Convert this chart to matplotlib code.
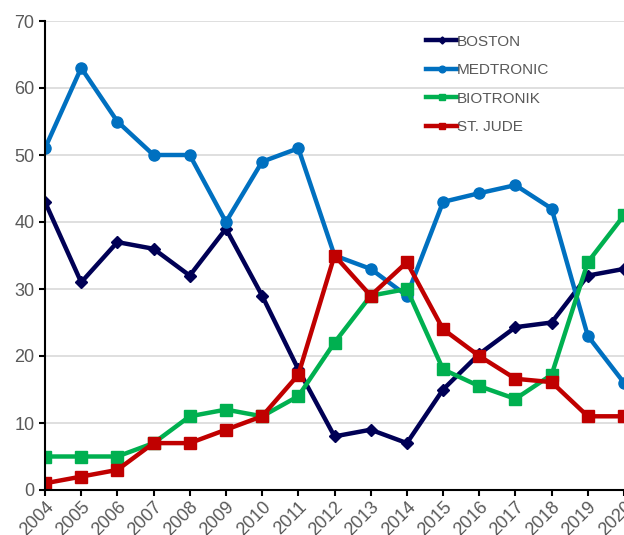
import matplotlib.pyplot as plt

years = list(range(2004, 2021))
boston = [43, 31, 37, 36, 32, 39, 29, 18, 8, 9, 7, 15, 20.3, 24.3, 25, 32, 33]
medtronic = [51, 63, 55, 50, 50, 40, 49, 51, 35, 33, 29, 43, 44.3, 45.5, 42, 23, 16]
biotronik = [5, 5, 5, 7, 11, 12, 11, 14, 22, 29, 30, 18, 15.5, 13.6, 17.2, 34, 41]
st_jude = [1, 2, 3, 7, 7, 9, 11, 17.2, 35, 29, 34, 24, 20, 16.6, 16.1, 11, 11]

plt.rcParams['font.family'] = ['Liberation Sans', 'DejaVu Sans']

fig = plt.figure(figsize=(6.24, 5.35), dpi=100)
ax = fig.add_axes([45 / 624, 45 / 535, 579 / 624, 469 / 535])

ax.plot(years, boston, color='#000055', lw=3.2, marker='D', ms=6, label='BOSTON')
ax.plot(years, medtronic, color='#0070C0', lw=3.2, marker='o', ms=8, label='MEDTRONIC')
ax.plot(years, biotronik, color='#00B050', lw=3.2, marker='s', ms=8, label='BIOTRONIK')
ax.plot(years, st_jude, color='#C00000', lw=3.2, marker='s', ms=8, label='ST. JUDE')

ax.set_xlim(2004, 2020)
ax.set_ylim(0, 70)
ax.set_yticks(range(0, 71, 10))
ax.set_xticks(years)
ax.set_xticklabels([str(y) for y in years], rotation=45, ha='right', rotation_mode='anchor')
ax.yaxis.grid(True, color='#D9D9D9', lw=1.2)
ax.set_axisbelow(True)
for s in ['top', 'right']:
    ax.spines[s].set_visible(False)
for s in ['left', 'bottom']:
    ax.spines[s].set_linewidth(1.5)
    ax.spines[s].set_color('black')
ax.tick_params(axis='both', colors='black', labelcolor='#595959', labelsize=13, width=1.5, length=4)
ax.tick_params(axis='x', pad=2)

leg = ax.legend(loc='upper left', bbox_to_anchor=(0.635, 1.0), frameon=False, fontsize=11,
                handlelength=2.0, handletextpad=0.0, labelspacing=0.95, markerscale=0.6)
for t in leg.get_texts():
    t.set_color('#595959')

fig.savefig('out.png', dpi=100)
